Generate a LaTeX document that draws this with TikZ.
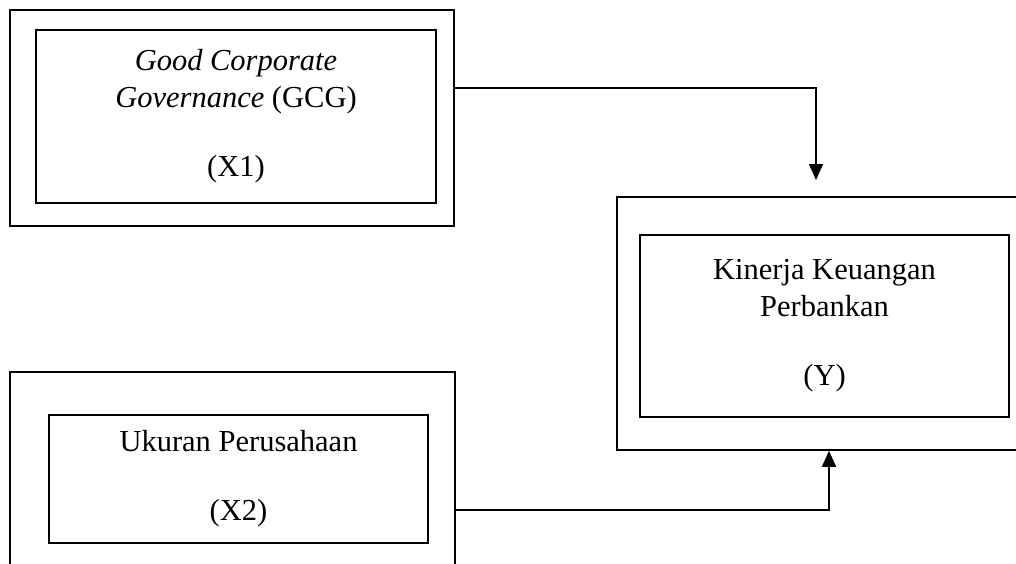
\documentclass[tikz,border=0pt]{standalone}
\usepackage{fontspec}
\setmainfont{Liberation Serif}
\usetikzlibrary{arrows.meta}

\begin{document}
\begin{tikzpicture}[x=1pt, y=-1pt, line width=1.6pt,
    outerbox/.style={rectangle, draw, inner sep=0pt},
    innerbox/.style={rectangle, draw, inner sep=0pt, align=center,
        font=\fontsize{30.5}{37}\selectfont},
    arrow/.style={-{Triangle[length=16pt, width=14pt]}}]
     \clip (0,0) rectangle (1016,563);

     \node[outerbox, minimum width=444pt, minimum height=216pt] (gcgo) at (232,118) {};
     \node[innerbox, minimum width=400pt, minimum height=173pt] (gcg) at (236,116.5)
          {\textit{Good Corporate}\\ \textit{Governance} (GCG)\\[32pt] (X1)};

     \node[outerbox, minimum width=445pt, minimum height=208pt] (ukuro) at (232.5,476) {};
     \node[innerbox, minimum width=379pt, minimum height=128pt] (ukur) at (238.5,479)
          {Ukuran Perusahaan\\[32pt] (X2)};

     \node[outerbox, minimum width=413pt, minimum height=253pt] (kino) at (823.5,323.5) {};
     \node[innerbox, minimum width=369pt, minimum height=182pt] (kin) at (824.5,326)
          {Kinerja Keuangan\\ Perbankan\\[32pt] (Y)};

     \coordinate (tipA) at (816,180);
     \draw[arrow] (gcgo.north east) ++(0,79) -| (tipA);
     \draw[arrow] (ukuro.east |- 0,510) -| ([xshift=5.5pt]kino.south);
 \end{tikzpicture}
\end{document}
